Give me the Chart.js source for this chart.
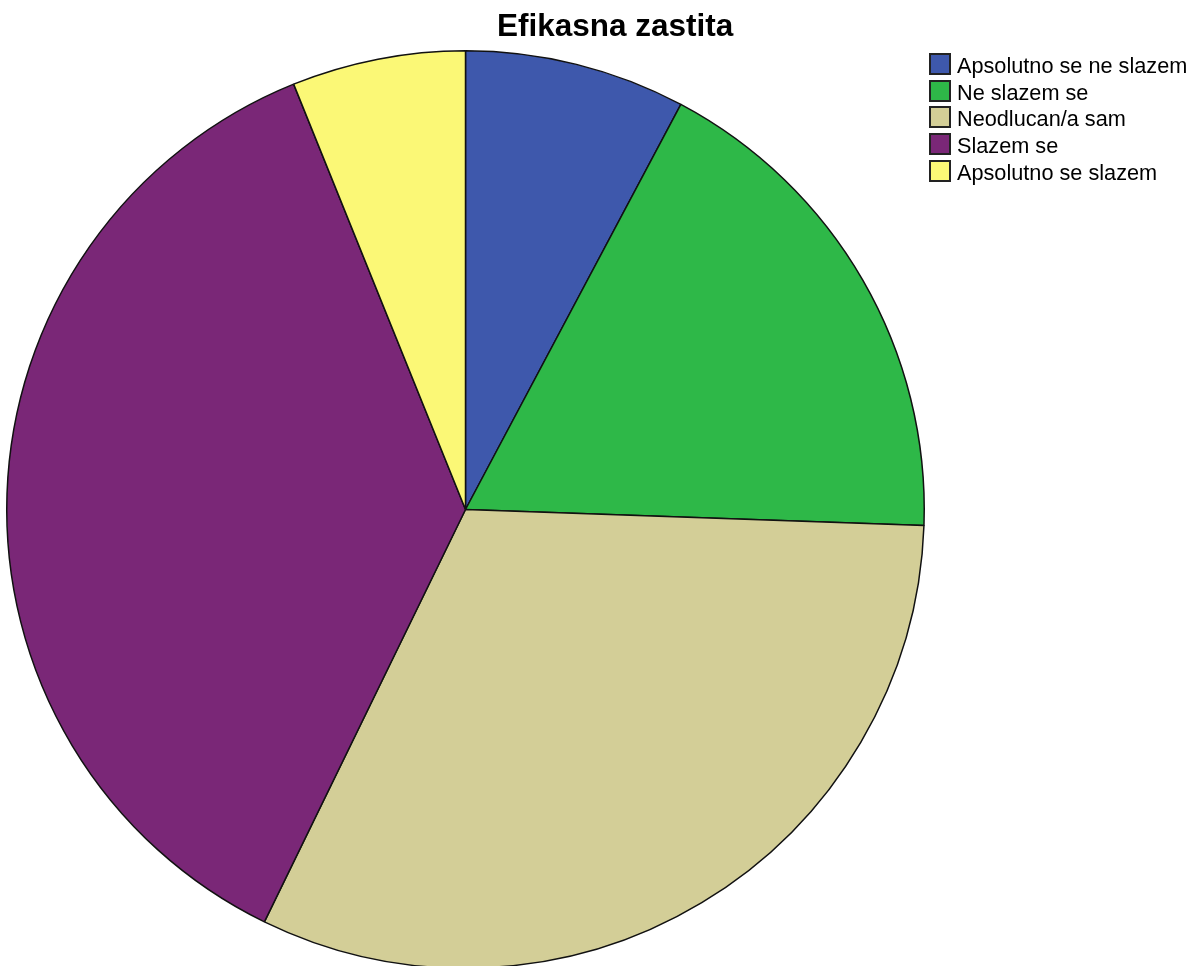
<!DOCTYPE html>
<html>
<head>
<meta charset="utf-8">
<script src="https://cdn.jsdelivr.net/npm/chart.js@4"></script>
<style>
  html, body { margin: 0; padding: 0; background: #fff; overflow: hidden; }
  #okvir { position: relative; width: 1196px; height: 966px; overflow: hidden; }
  #grafik { position: absolute; left: 0; top: 0; }
  #naslov {
    position: absolute; left: 497px; top: 7px;
    font: bold 31.5px "Liberation Sans", Arial, sans-serif; color: #000;
    white-space: nowrap;
  }
  #legenda { position: absolute; left: 929px; top: 53px; font: 21.7px "Liberation Sans", Arial, sans-serif; color: #000; }
  .stavka { position: relative; height: 26.7px; white-space: nowrap; }
  .kutija { position: absolute; left: 0; top: 0; width: 18px; height: 18px; border: 2px solid #222; }
  .tekst { position: absolute; left: 28px; top: 0px; }
</style>
</head>
<body>
<div id="okvir">
  <canvas id="grafik" width="1196" height="980"></canvas>
  <div id="naslov">Efikasna zastita</div>
  <div id="legenda"></div>
</div>
<script>
const kategorije = ['Apsolutno se ne slazem', 'Ne slazem se', 'Neodlucan/a sam', 'Slazem se', 'Apsolutno se slazem'];
const frekvencije = [14, 32, 57, 66, 11];
const boje = ['#3e58ac', '#2eb848', '#d3ce97', '#7a2777', '#fbf876'];

// legenda desno od kruga
const legenda = document.getElementById('legenda');
kategorije.forEach((naziv, i) => {
  const red = document.createElement('div');
  red.className = 'stavka';
  red.innerHTML = `<span class="kutija" style="background:${boje[i]}"></span><span class="tekst">${naziv}</span>`;
  legenda.appendChild(red);
});

new Chart(document.getElementById('grafik').getContext('2d'), {
  type: 'pie',
  data: {
    labels: kategorije,
    datasets: [{
      data: frekvencije,
      backgroundColor: boje,
      borderColor: '#111',
      borderWidth: 1.5
    }]
  },
  options: {
    responsive: false,
    animation: false,
    layout: { padding: { left: 6, top: 50, right: 271, bottom: 11 } },
    plugins: {
      legend: { display: false },
      title: { display: false },
      tooltip: { enabled: false }
    }
  }
});
</script>
</body>
</html>
